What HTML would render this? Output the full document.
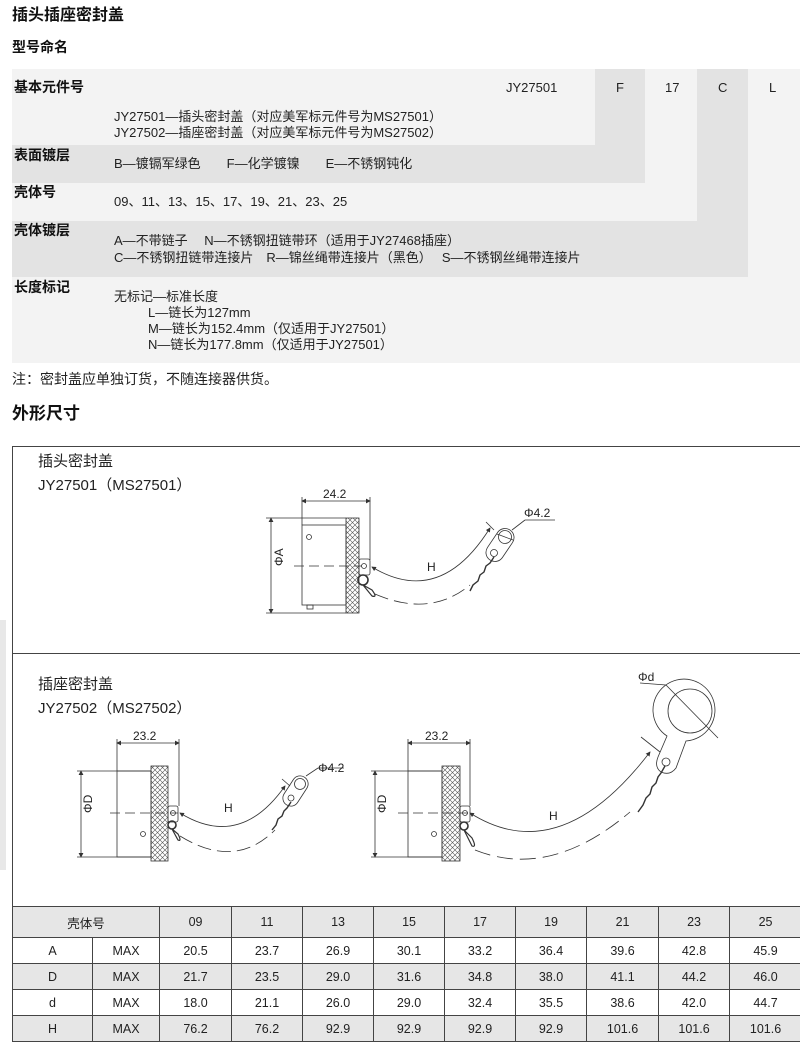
<!DOCTYPE html>
<html><head><meta charset="utf-8"><style>
*{margin:0;padding:0;box-sizing:border-box}
body{width:800px;height:1055px;background:#fff;position:relative;overflow:hidden;font-family:"Liberation Sans","Noto Sans CJK SC",sans-serif;color:#222;font-size:13px}
.a{position:absolute;white-space:nowrap;line-height:1}
.b{font-weight:bold;font-size:14px;color:#111}
.h{font-weight:bold;font-size:16px;color:#111}
.bg{position:absolute}
table{position:absolute;left:12px;top:906px;width:789px;border-collapse:collapse;font-size:12.5px;table-layout:fixed}
td{border:1px solid #444;text-align:center;height:26px;padding:0}
tr.g td{background:#e6e6e6}
</style></head><body>
<div class="a h" style="left:12px;top:8px">插头插座密封盖</div>
<div class="a b" style="left:12px;top:40px;font-size:14px">型号命名</div>

<div class="bg" style="left:12px;top:69px;width:788px;height:294px;background:#f3f3f3"></div>
<div class="bg" style="left:595px;top:69px;width:50px;height:114px;background:#e3e3e3"></div>
<div class="bg" style="left:697px;top:69px;width:51px;height:152px;background:#e3e3e3"></div>
<div class="bg" style="left:12px;top:145px;width:633px;height:38px;background:#e3e3e3"></div>
<div class="bg" style="left:12px;top:221px;width:736px;height:56px;background:#e3e3e3"></div>

<div class="a b" style="left:14px;top:80px">基本元件号</div>
<div class="a" style="left:506px;top:81px">JY27501</div>
<div class="a" style="left:616px;top:81px">F</div>
<div class="a" style="left:665px;top:81px">17</div>
<div class="a" style="left:718px;top:81px">C</div>
<div class="a" style="left:769px;top:81px">L</div>
<div class="a" style="left:114px;top:110px">JY27501—插头密封盖（对应美军标元件号为MS27501）</div>
<div class="a" style="left:114px;top:126px">JY27502—插座密封盖（对应美军标元件号为MS27502）</div>
<div class="a b" style="left:14px;top:148px">表面镀层</div>
<div class="a" style="left:114px;top:157px">B—镀镉军绿色　　F—化学镀镍　　E—不锈钢钝化</div>
<div class="a b" style="left:14px;top:185px">壳体号</div>
<div class="a" style="left:114px;top:195px">09、11、13、15、17、19、21、23、25</div>
<div class="a b" style="left:14px;top:223px">壳体镀层</div>
<div class="a" style="left:114px;top:234px">A—不带链子　 N—不锈钢扭链带环（适用于JY27468插座）</div>
<div class="a" style="left:114px;top:251px">C—不锈钢扭链带连接片　R—锦丝绳带连接片（黑色）　 S—不锈钢丝绳带连接片</div>
<div class="a b" style="left:14px;top:280px">长度标记</div>
<div class="a" style="left:114px;top:290px">无标记—标准长度</div>
<div class="a" style="left:148px;top:306px">L—链长为127mm</div>
<div class="a" style="left:148px;top:322px">M—链长为152.4mm（仅适用于JY27501）</div>
<div class="a" style="left:148px;top:338px">N—链长为177.8mm（仅适用于JY27501）</div>
<div class="a" style="left:12px;top:372px;font-size:14px">注：密封盖应单独订货，不随连接器供货。</div>
<div class="a h" style="left:12px;top:405px;font-size:17px">外形尺寸</div>

<div class="bg" style="left:0;top:620px;width:6px;height:250px;background:#e8e8e8"></div>
<div class="bg" style="left:12px;top:446px;width:790px;height:595px;border:1px solid #444"></div>
<div class="bg" style="left:12px;top:653px;width:790px;height:1px;background:#444"></div>

<div class="a" style="left:38px;top:454px;font-size:15px">插头密封盖</div>
<div class="a" style="left:38px;top:478px;font-size:15px">JY27501（MS27501）</div>
<div class="a" style="left:38px;top:677px;font-size:15px">插座密封盖</div>
<div class="a" style="left:38px;top:701px;font-size:15px">JY27502（MS27502）</div>

<svg style="position:absolute;left:0;top:0" width="800" height="1055" font-family="Liberation Sans" font-size="11" fill="none" stroke="#333" stroke-width="0.8">
<defs>
<pattern id="k" width="5" height="5" patternUnits="userSpaceOnUse"><path d="M0 0L5 5M5 0L0 5" stroke="#555" stroke-width="0.6"/></pattern>
<marker id="ar" markerWidth="6" markerHeight="6" refX="5" refY="3" orient="auto-start-reverse"><path d="M0 0L6 3L0 6z" fill="#333" stroke="none"/></marker>
</defs>
<!-- drawing 1 -->
<line x1="271" y1="518" x2="271" y2="613" marker-start="url(#ar)" marker-end="url(#ar)"/>
<line x1="266" y1="518" x2="346" y2="518"/><line x1="266" y1="613" x2="346" y2="613"/>
<rect x="302" y="525" width="44" height="80"/>
<rect x="307" y="605" width="6" height="4"/>
<circle cx="309" cy="537" r="2.5"/>
<rect x="346" y="518" width="13" height="95" fill="url(#k)"/>
<line x1="302" y1="501" x2="370" y2="501" marker-start="url(#ar)" marker-end="url(#ar)"/>
<line x1="302" y1="497" x2="302" y2="525"/><line x1="370" y1="497" x2="370" y2="560"/>
<text x="323" y="498" fill="#222" stroke="none" font-size="12">24.2</text>
<line x1="294" y1="566" x2="362" y2="566" stroke-dasharray="10 5"/>
<rect x="359" y="559" width="11" height="16" rx="2"/>
<circle cx="364" cy="566" r="2.5"/>
<circle cx="363" cy="580" r="5" stroke-width="1.6"/>
<path d="M363 585 L372 596 Q378 598 372 590 Z" stroke-width="1.2"/>
<text x="271" y="578" fill="#222" stroke="none" transform="rotate(-90 271 566)" font-size="12">ΦA</text>
<path d="M372 567 Q440 608 490 528" marker-start="url(#ar)" marker-end="url(#ar)"/>
<line x1="486" y1="522" x2="494" y2="530"/>
<text x="427" y="571" fill="#222" stroke="none" font-size="12">H</text>
<path d="M375 594 Q430 618 470 585" stroke-dasharray="14 6"/>
<rect x="482" y="536" width="36" height="18" rx="9" transform="rotate(124 500 545)"/>
<circle cx="505" cy="537" r="6.5"/><circle cx="494" cy="553" r="3.5"/>
<line x1="497" y1="534" x2="513" y2="540"/>
<path d="M494 557 L490 563 L486 566 L484 572 L480 575 L478 581 L473 585 L470 591" stroke-width="1.4"/>
<line x1="512" y1="530" x2="525" y2="520"/><line x1="525" y1="520" x2="555" y2="520"/>
<text x="524" y="517" fill="#222" stroke="none" font-size="12">Φ4.2</text>
<!-- drawing 2 left -->
<line x1="81" y1="771" x2="81" y2="857" marker-start="url(#ar)" marker-end="url(#ar)"/>
<line x1="77" y1="771" x2="151" y2="771"/><line x1="77" y1="857" x2="151" y2="857"/>
<rect x="117" y="771" width="34" height="86"/>
<circle cx="143" cy="834" r="2.5"/>
<rect x="151" y="766" width="17" height="95" fill="url(#k)"/>
<line x1="117" y1="743" x2="179" y2="743" marker-start="url(#ar)" marker-end="url(#ar)"/>
<line x1="117" y1="739" x2="117" y2="771"/><line x1="179" y1="739" x2="179" y2="806"/>
<text x="133" y="740" fill="#222" stroke="none" font-size="12">23.2</text>
<line x1="110" y1="813" x2="178" y2="813" stroke-dasharray="10 5"/>
<rect x="168" y="806" width="10" height="16" rx="2"/><circle cx="173" cy="813" r="2.5"/>
<circle cx="172" cy="825" r="4" stroke-width="1.6"/>
<path d="M172 829 L178 840 Q182 842 178 834 Z" stroke-width="1.2"/>
<text x="81" y="824" fill="#222" stroke="none" transform="rotate(-90 81 813)" font-size="12">ΦD</text>
<path d="M180 813 Q240 850 285 786" marker-start="url(#ar)" marker-end="url(#ar)"/>
<line x1="282" y1="779" x2="290" y2="786"/>
<text x="224" y="812" fill="#222" stroke="none" font-size="12">H</text>
<path d="M180 836 Q235 870 275 830" stroke-dasharray="14 6"/>
<rect x="279" y="783" width="33" height="16" rx="8" transform="rotate(123 295.5 791)"/>
<circle cx="300" cy="784" r="5.5"/><circle cx="291" cy="798" r="3"/>
<path d="M291 802 L287 808 L284 811 L282 816 L278 819 L276 825 L272 830" stroke-width="1.4"/>
<line x1="306" y1="776" x2="318" y2="768"/><line x1="318" y1="768" x2="344" y2="768"/>
<text x="318" y="772" fill="#222" stroke="none" font-size="12">Φ4.2</text>
<!-- drawing 2 right -->
<line x1="375" y1="771" x2="375" y2="857" marker-start="url(#ar)" marker-end="url(#ar)"/>
<line x1="371" y1="771" x2="442" y2="771"/><line x1="371" y1="857" x2="442" y2="857"/>
<rect x="408" y="771" width="34" height="86"/>
<circle cx="434" cy="834" r="2.5"/>
<rect x="442" y="766" width="18" height="95" fill="url(#k)"/>
<line x1="408" y1="743" x2="470" y2="743" marker-start="url(#ar)" marker-end="url(#ar)"/>
<line x1="408" y1="739" x2="408" y2="771"/><line x1="470" y1="739" x2="470" y2="806"/>
<text x="425" y="740" fill="#222" stroke="none" font-size="12">23.2</text>
<line x1="398" y1="813" x2="468" y2="813" stroke-dasharray="10 5"/>
<rect x="460" y="806" width="10" height="16" rx="2"/><circle cx="465" cy="813" r="2.5"/>
<circle cx="464" cy="826" r="4" stroke-width="1.6"/>
<path d="M464 830 L472 846 Q477 848 472 838 Z" stroke-width="1.2"/>
<text x="375" y="824" fill="#222" stroke="none" transform="rotate(-90 375 813)" font-size="12">ΦD</text>
<path d="M470 813 Q560 870 650 752" marker-start="url(#ar)" marker-end="url(#ar)"/>
<line x1="641" y1="737" x2="660" y2="752"/>
<text x="549" y="820" fill="#222" stroke="none" font-size="12">H</text>
<path d="M475 850 Q550 880 630 812" stroke-dasharray="16 7"/>
<path d="M667 736 A31 31 0 1 1 686 741 L676 768 Q670 776 661 772 Q654 767 658 757 Z"/>
<circle cx="690" cy="711" r="22"/>
<circle cx="666" cy="762" r="4"/>
<line x1="666" y1="685" x2="718" y2="738"/>
<line x1="640" y1="683" x2="666" y2="685"/>
<text x="638" y="681" fill="#222" stroke="none" font-size="12">Φd</text>
<path d="M665 766 L661 773 L658 777 L656 783 L652 787 L650 794 L646 798 L643 805 L638 812" stroke-width="1.4"/>
</svg>

<table>
<colgroup><col style="width:80px"><col style="width:67px"><col style="width:72px"><col style="width:71px"><col style="width:71px"><col style="width:71px"><col style="width:71px"><col style="width:71px"><col style="width:72px"><col style="width:71px"><col style="width:72px"></colgroup>
<tr class="g"><td colspan="2" style="height:31px">壳体号</td><td>09</td><td>11</td><td>13</td><td>15</td><td>17</td><td>19</td><td>21</td><td>23</td><td>25</td></tr>
<tr><td>A</td><td>MAX</td><td>20.5</td><td>23.7</td><td>26.9</td><td>30.1</td><td>33.2</td><td>36.4</td><td>39.6</td><td>42.8</td><td>45.9</td></tr>
<tr class="g"><td>D</td><td>MAX</td><td>21.7</td><td>23.5</td><td>29.0</td><td>31.6</td><td>34.8</td><td>38.0</td><td>41.1</td><td>44.2</td><td>46.0</td></tr>
<tr><td>d</td><td>MAX</td><td>18.0</td><td>21.1</td><td>26.0</td><td>29.0</td><td>32.4</td><td>35.5</td><td>38.6</td><td>42.0</td><td>44.7</td></tr>
<tr class="g"><td>H</td><td>MAX</td><td>76.2</td><td>76.2</td><td>92.9</td><td>92.9</td><td>92.9</td><td>92.9</td><td>101.6</td><td>101.6</td><td>101.6</td></tr>
</table>
</body></html>
